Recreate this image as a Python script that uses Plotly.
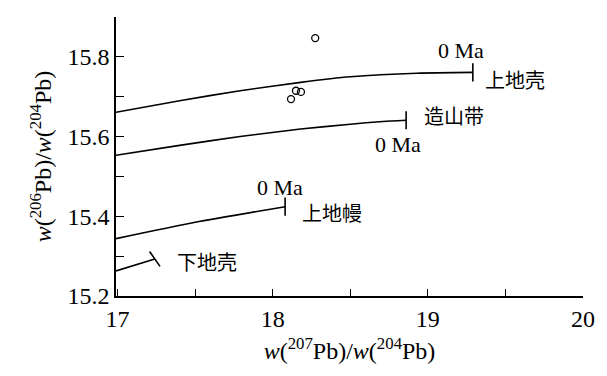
import plotly.graph_objects as go

# Courbes d'évolution (plumbotectonique)
upper_crust_x = [16.99, 17.40, 17.79, 18.18, 18.50, 18.93, 19.29]
upper_crust_y = [15.661, 15.690, 15.715, 15.736, 15.750, 15.759, 15.761]

orogene_x = [16.99, 17.40, 17.79, 18.18, 18.50, 18.71, 18.86]
orogene_y = [15.553, 15.578, 15.600, 15.619, 15.631, 15.638, 15.641]

mantle_x = [16.99, 17.50, 18.08]
mantle_y = [15.344, 15.385, 15.424]

lower_crust_x = [16.99, 17.24]
lower_crust_y = [15.263, 15.293]

# Échantillons
sample_x = [18.274, 18.150, 18.182, 18.118]
sample_y = [15.847, 15.715, 15.712, 15.694]

# Graduations
x_tickvals = [17, 17.5, 18, 18.5, 19, 19.5, 20]
x_ticktext = ["17", "", "18", "", "19", "", "20"]
y_tickvals = [15.2, 15.3, 15.4, 15.5, 15.6, 15.7, 15.8, 15.9]
y_ticktext = ["15.2", "", "15.4", "", "15.6", "", "15.8", ""]

SERIF = "Times New Roman, Liberation Serif, DejaVu Serif, serif"
CJK = "Noto Sans CJK SC"

# Étiquettes
labels = [
    ("0 Ma", 19.213, 15.817, "center", SERIF),
    ("上地壳", 19.355, 15.744, "left", CJK),
    ("造山带", 18.962, 15.653, "left", CJK),
    ("0 Ma", 18.807, 15.580, "center", SERIF),
    ("0 Ma", 18.047, 15.472, "center", SERIF),
    ("上地幔", 18.176, 15.409, "left", CJK),
    ("下地壳", 17.370, 15.286, "left", CJK),
]

fig = go.Figure()

curves = [
    (upper_crust_x, upper_crust_y, 0),
    (orogene_x, orogene_y, 0),
    (mantle_x, mantle_y, 0),
    (lower_crust_x, lower_crust_y, -35),
]
for xs, ys, angle in curves:
    fig.add_trace(go.Scatter(x=xs, y=ys, mode="lines",
                             line=dict(color="black", width=1.6, shape="spline", smoothing=0.6),
                             hoverinfo="skip"))
    # trait de fin (0 Ma)
    fig.add_trace(go.Scatter(x=xs[-1:], y=ys[-1:], mode="markers",
                             marker=dict(symbol="line-ns", size=13, angle=angle,
                                         line=dict(color="black", width=1.6)),
                             hoverinfo="skip"))

fig.add_trace(go.Scatter(x=sample_x, y=sample_y, mode="markers",
                         marker=dict(symbol="circle-open", size=7,
                                     line=dict(color="black", width=1.3),
                                     color="black")))

for text, x, y, anchor, fam in labels:
    fig.add_annotation(x=x, y=y, text=text, showarrow=False, xanchor=anchor,
                       yanchor="middle",
                       font=dict(family=fam, size=22 if fam == SERIF else 20,
                                 color="black"))

common_axis = dict(showline=True, linecolor="black", linewidth=1.6,
                   ticks="inside", tickcolor="black", tickwidth=1.4,
                   showgrid=False, zeroline=False, mirror=False,
                   tickfont=dict(family=SERIF, size=24, color="black"))

# la page ajoute 8 px de marge au body : on décale la figure
fig.update_layout(
    width=607, height=376,
    margin=dict(l=108, r=32, t=9, b=88),
    paper_bgcolor="white", plot_bgcolor="white",
    showlegend=False,
    xaxis=dict(range=[16.99, 20.0], tickvals=x_tickvals, ticktext=x_ticktext,
               ticklen=7,
               title=dict(text="<i>w</i>(<sup>207</sup>Pb)/<i>w</i>(<sup>204</sup>Pb)",
                          font=dict(family=SERIF, size=24, color="black"),
                          standoff=12),
               **common_axis),
    yaxis=dict(range=[15.2, 15.9], tickvals=y_tickvals, ticktext=y_ticktext,
               ticklen=8,
               title=dict(text="<i>w</i>(<sup>206</sup>Pb)/<i>w</i>(<sup>204</sup>Pb)",
                          font=dict(family=SERIF, size=24, color="black"),
                          standoff=9),
               **common_axis),
)

fig.write_html("out.html")
